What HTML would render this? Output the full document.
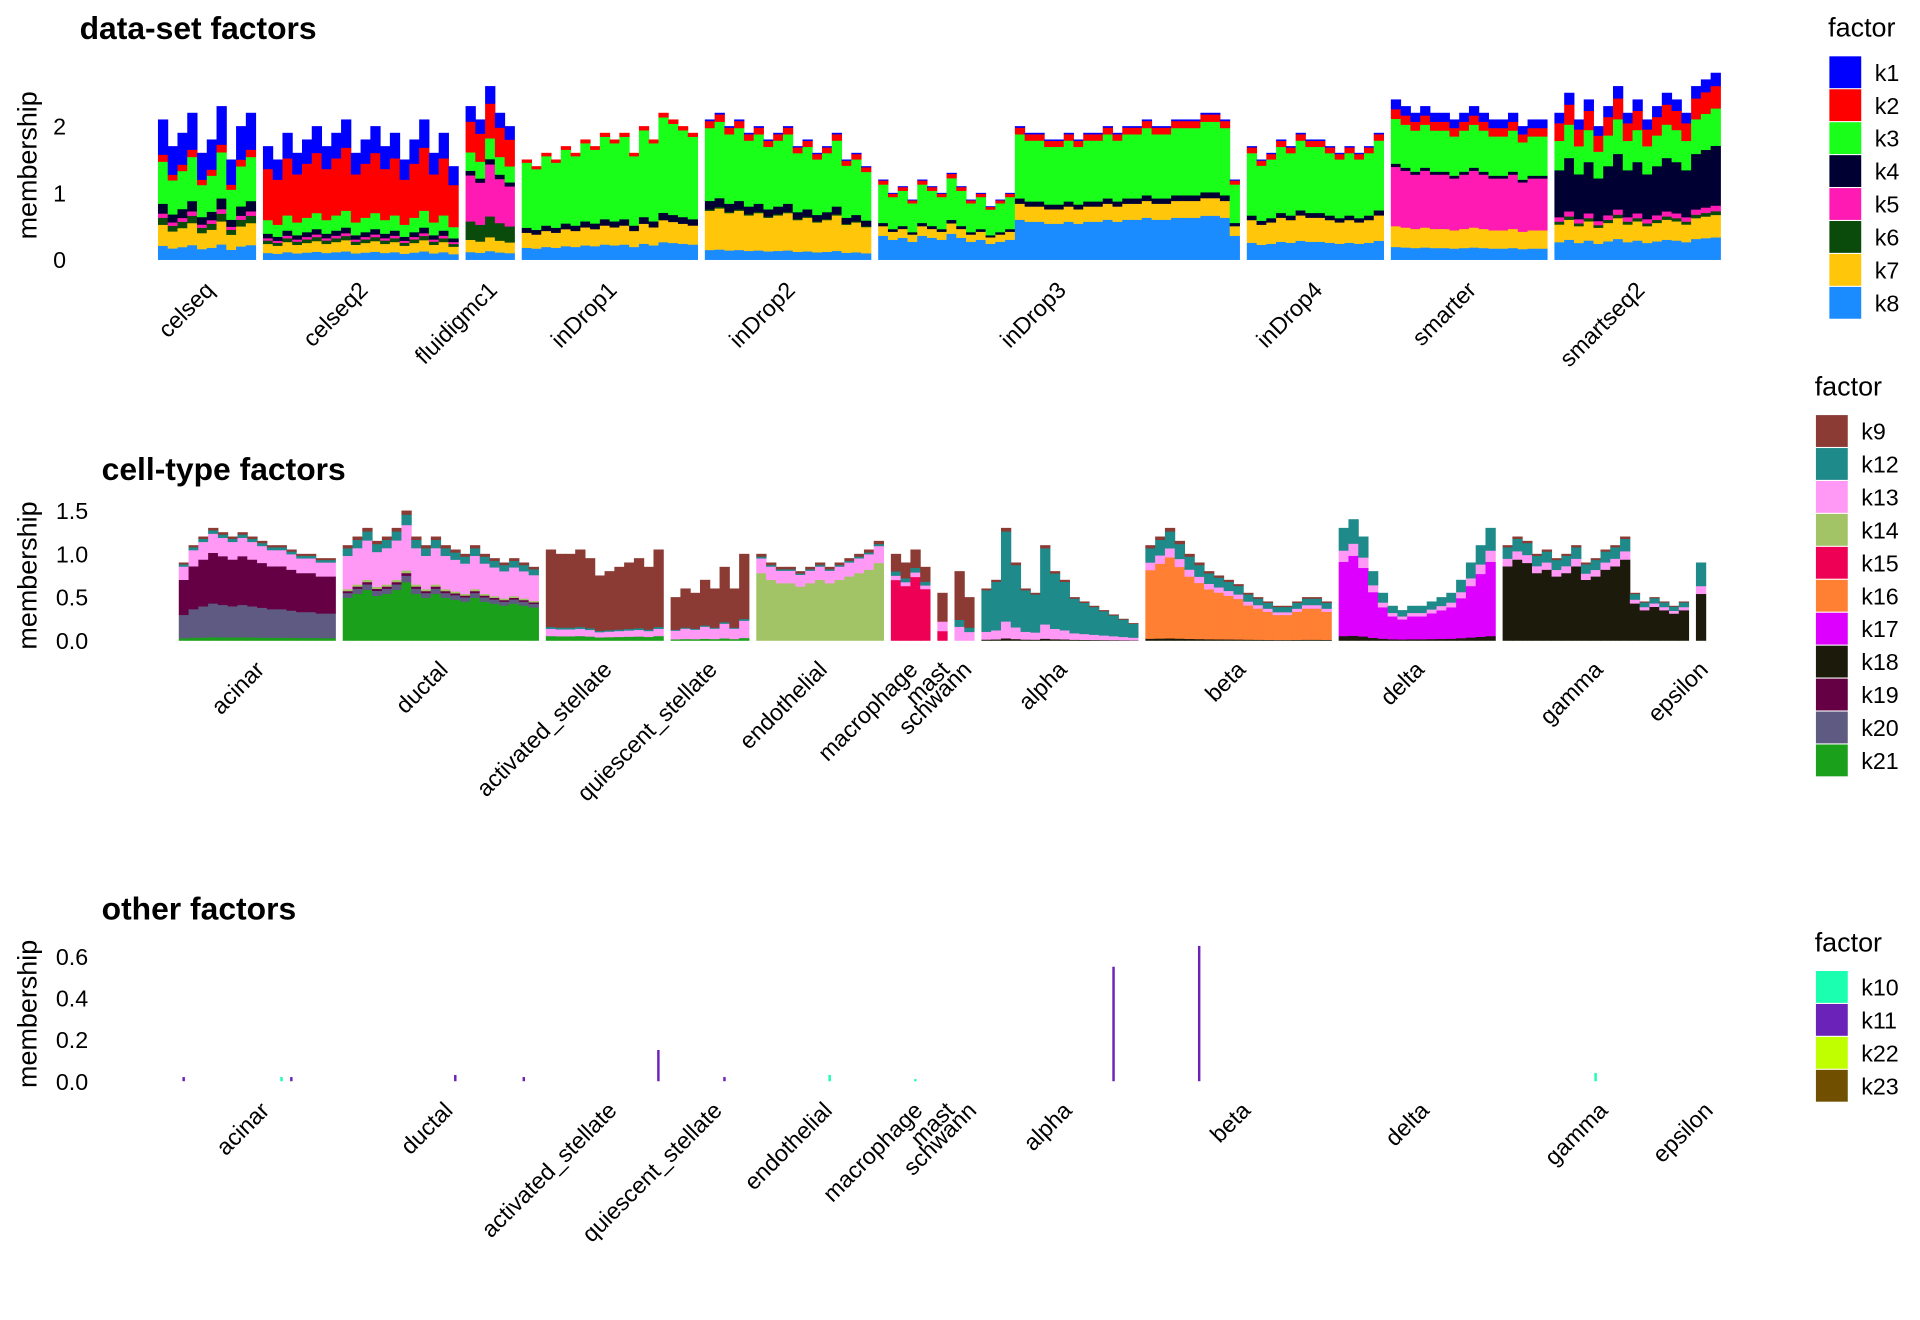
<!DOCTYPE html>
<html><head><meta charset="utf-8"><style>
html,body{margin:0;padding:0;background:#fff;}
svg{display:block;font-family:"Liberation Sans",Arial,sans-serif;}
</style></head><body>
<svg id="chart" width="1920" height="1320" viewBox="0 0 1568 1078" xmlns="http://www.w3.org/2000/svg"></svg>
<script>
// ---------- Panel 1 data ----------
const p1Factors = ['k8','k7','k6','k5','k4','k3','k2','k1']; // bottom -> top
const p1Legend = ['k1','k2','k3','k4','k5','k6','k7','k8'];
const p1Groups = ['celseq','celseq2','fluidigmc1','inDrop1','inDrop2','inDrop3','inDrop4','smarter','smartseq2'];
const p1Profiles = [
 [.10,.15,.05,.03,.07,.30,.05,.25],
 [.06,.08,.03,.02,.04,.12,.45,.20],
 [.05,.08,.12,.30,.03,.12,.20,.10],
 [.12,.15,.0,.0,.05,.65,.03,.0],
 [.07,.28,.01,.0,.06,.52,.05,.01],
 [.30,.12,.0,.0,.04,.48,.05,.01],
 [.15,.20,.0,.0,.04,.55,.05,.01],
 [.08,.13,.0,.37,.02,.28,.06,.06],
 [.12,.12,.02,.03,.32,.20,.12,.07]
];
const p1Totals = [
 [2.1,1.7,1.9,2.2,1.6,1.8,2.3,1.5,2.0,2.2],
 [1.7,1.5,1.9,1.6,1.8,2.0,1.7,1.9,2.1,1.6,1.8,2.0,1.7,1.9,1.5,1.8,2.1,1.6,1.9,1.4],
 [2.3,2.1,2.6,2.2,2.0],
 [1.5,1.4,1.6,1.5,1.7,1.6,1.8,1.7,1.9,1.8,1.9,1.6,2.0,1.8,2.2,2.1,2.0,1.9],
 [2.1,2.2,2.0,2.1,1.9,2.0,1.8,1.9,2.0,1.7,1.8,1.6,1.7,1.9,1.5,1.6,1.4],
 [1.2,1.0,1.1,0.9,1.2,1.1,1.0,1.3,1.1,0.9,1.0,0.8,0.9,1.0,2.0,1.9,1.9,1.8,1.8,1.9,1.8,1.9,1.9,2.0,1.9,2.0,2.0,2.1,2.0,2.0,2.1,2.1,2.1,2.2,2.2,2.1,1.2],
 [1.7,1.5,1.6,1.8,1.7,1.9,1.8,1.8,1.7,1.6,1.7,1.6,1.7,1.9],
 [2.4,2.3,2.2,2.3,2.2,2.2,2.1,2.2,2.3,2.2,2.1,2.1,2.2,2.0,2.1,2.1],
 [2.2,2.5,2.1,2.4,2.0,2.3,2.6,2.2,2.4,2.1,2.3,2.5,2.4,2.2,2.6,2.7,2.8]
];
const p1Ticks = [0,1,2];
// ---------- Panel 2 data ----------
const p2Factors = ['k21','k20','k19','k18','k17','k16','k15','k14','k13','k12','k9'];
const p2Legend = ['k9','k12','k13','k14','k15','k16','k17','k18','k19','k20','k21'];
const cellGroups = ['acinar','ductal','activated_stellate','quiescent_stellate','endothelial','macrophage','mast','schwann','alpha','beta','delta','gamma','epsilon'];
const p2Profiles = [
 [.03,.30,.45,0,0,0,0,0,.17,.03,.02],
 [.45,.05,.02,0,0,0,0,.02,.35,.08,.03],
 [.05,0,0,0,0,0,0,0,.08,.02,.85],
 [.03,0,0,0,0,0,0,0,.20,.02,.75],
 [0,0,0,0,0,0,0,.78,.17,.02,.03],
 [0,0,0,0,0,0,.70,0,.05,.05,.20],
 [0,0,0,0,0,0,.20,0,.20,0,.60],
 [0,0,0,0,0,0,0,0,.20,.10,.70],
 [0,0,0,.02,0,0,0,0,.15,.80,.03],
 [0,0,0,.02,0,.72,0,0,.08,.15,.03],
 [0,0,0,.04,.66,0,0,0,.10,.20,0],
 [0,0,0,.78,0,0,0,0,.08,.12,.02],
 [0,0,0,.60,0,0,0,0,.10,.30,0]
];
const p2Totals = [
 [0.9,1.1,1.2,1.3,1.25,1.2,1.25,1.2,1.15,1.1,1.1,1.05,1.0,1.0,0.95,0.95],
 [1.1,1.2,1.3,1.15,1.2,1.3,1.5,1.2,1.1,1.2,1.1,1.05,1.0,1.1,1.0,0.95,0.9,0.95,0.9,0.85],
 [1.05,1.0,1.0,1.05,0.95,0.75,0.8,0.85,0.9,0.95,0.85,1.05],
 [0.5,0.6,0.55,0.7,0.6,0.85,0.6,1.0],
 [1.0,0.9,0.85,0.85,0.8,0.85,0.9,0.85,0.9,0.95,1.0,1.05,1.15],
 [1.0,0.9,1.05,0.85],
 [0.55],
 [0.8,0.5],
 [0.6,0.7,1.3,0.9,0.6,0.55,1.1,0.8,0.7,0.5,0.45,0.4,0.35,0.3,0.25,0.2],
 [1.1,1.2,1.3,1.15,1.0,0.9,0.8,0.75,0.7,0.65,0.55,0.5,0.45,0.4,0.4,0.45,0.5,0.5,0.45],
 [1.3,1.4,1.2,0.8,0.55,0.4,0.35,0.4,0.4,0.45,0.5,0.55,0.7,0.9,1.1,1.3],
 [1.1,1.2,1.15,1.0,1.05,0.95,1.0,1.1,0.9,0.95,1.05,1.1,1.2,0.55,0.45,0.5,0.45,0.4,0.45],
 [0.9]
];
const p2Ticks = [0,0.5,1.0,1.5];
// ---------- Panel 3 data ----------
const p3Legend = ['k10','k11','k22','k23'];
const p3Groups = ['acinar','ductal','activated_stellate','acinar','ductal','quiescent_stellate','endothelial','alpha','beta','gamma','acinar','macrophage'];
const p3Index = [0,11,11,10,18,5,7,13,5,9,11,2];
const p3Factor = ['k11','k11','k11','k10','k11','k11','k10','k11','k11','k10','k11','k10'];
const p3Values = [0.02,0.03,0.15,0.02,0.02,0.02,0.03,0.55,0.65,0.04,0.02,0.01];
const p3Ticks = [0,0.2,0.4,0.6];

const colors = {k1:'#0000ff',k2:'#ff0000',k3:'#1aff1a',k4:'#000033',k5:'#ff1ab3',k6:'#0a4a0a',k7:'#ffc60a',k8:'#1a8cff',
 k9:'#8b3a34',k12:'#1f8a8a',k13:'#ff99f5',k14:'#a3c466',k15:'#ee0055',k16:'#ff7f33',k17:'#dd00ff',k18:'#1c1a0a',k19:'#660044',k20:'#5f5a82',k21:'#1aa01a',
 k10:'#1affb0',k11:'#6a22b8',k22:'#bfff00',k23:'#705000'};

const NS='http://www.w3.org/2000/svg';
const svg=document.getElementById('chart');
function el(tag,attrs,parent){const e=document.createElementNS(NS,tag);for(const k in attrs)e.setAttribute(k,attrs[k]);(parent||svg).appendChild(e);return e;}
function txt(s,attrs,parent){const e=el('text',attrs,parent);e.textContent=s;return e;}

function bandLayout(totals,x0,x1,gap){
  const n=totals.reduce((a,t)=>a+t.length,0);
  const bw=(x1-x0-gap*(totals.length-1))/n;
  const out=[];let x=x0;
  totals.forEach(t=>{out.push({x:x,bw:bw,w:bw*t.length});x+=bw*t.length+gap;});
  return out;
}

function drawPanel(cfg){
  const g=el('g',{});
  
  
  const y=v=>cfg.y0-v*cfg.ppu;
  const t=txt(cfg.title,{x:cfg.titleX,y:cfg.titleY,'font-size':26,'font-weight':'bold',fill:'#000'},g);
  
  
  const at=txt('membership',{x:0,y:0,'font-size':22,'text-anchor':'middle',transform:`translate(30,${cfg.axisMid}) rotate(-90)`},g);
  
  
  cfg.ticks.forEach(v=>{
    const tk=txt(cfg.fmt(v),{x:cfg.tickX,y:y(v)+7,'font-size':19,'text-anchor':'end',fill:'#000'},g);
    
    
  });
  const lay=bandLayout(cfg.totals,cfg.x0,cfg.x1,6);
  const bars=el('g',{},g);
  
  
  if(cfg.profiles){
    cfg.totals.forEach((tot,gi)=>{
      tot.forEach((T,bi)=>{
        let acc=0;
        const bx=lay[gi].x+bi*lay[gi].bw;
        cfg.factors.forEach((f,fi)=>{
          const v=T*cfg.profiles[gi][fi];
          if(v<=0)return;
          const r=el('rect',{x:bx,y:y(acc+v),width:lay[gi].bw+0.4,height:v*cfg.ppu+0.3,fill:colors[f]},bars);
          
          
          acc+=v;
        });
      });
    });
  }
  if(cfg.spikes){
    cfg.spikes.groups.forEach((gn,i)=>{
      const gi=cellGroups.indexOf(gn);
      const bx=lay[gi].x+cfg.spikes.idx[i]*lay[gi].bw+lay[gi].bw/2;
      const v=cfg.spikes.vals[i];
      const r=el('rect',{x:bx-1,y:y(v),width:2,height:v*cfg.ppu,fill:colors[cfg.spikes.fac[i]]},bars);
      
      
    });
  }
  cfg.labels.forEach((lb,gi)=>{
    const cx=lay[gi].x+lay[gi].w/2+(cfg.labelShift||0);
    const l=txt(lb,{x:0,y:0,'font-size':19,'text-anchor':'end',transform:`translate(${cx+7},${cfg.labelY}) rotate(-45)`},g);
    
    
  });
  const lg=el('g',{},g);
  
  
  const lt=txt('factor',{x:cfg.legX,y:cfg.legY,'font-size':22},lg);
  
  
  cfg.legend.forEach((k,i)=>{
    const cy=cfg.legY+16+i*26.9;
    const r=el('rect',{x:cfg.legX+1,y:cy,width:26,height:26,fill:colors[k]},lg);
    
    
    const tx=txt(k,{x:cfg.legX+38,y:cy+20,'font-size':19},lg);
    
    
  });
}

drawPanel({name:'data-set-factors-panel',title:'data-set factors',titleX:65,titleY:32,y0:212,ppu:54.5,axisMid:135,
  tickX:54,ticks:p1Ticks,fmt:v=>String(v),x0:129,x1:1405,totals:p1Totals,profiles:p1Profiles,factors:p1Factors,
  labels:p1Groups,labelY:238,legX:1493,legY:30,legend:p1Legend});
drawPanel({name:'cell-type-factors-panel',title:'cell-type factors',titleX:83,titleY:392,y0:523,ppu:70.7,axisMid:470,
  tickX:72,ticks:p2Ticks,fmt:v=>v.toFixed(1),x0:146,x1:1393,totals:p2Totals,profiles:p2Profiles,factors:p2Factors,
  labels:cellGroups,labelY:548,legX:1482,legY:323,legend:p2Legend});
drawPanel({name:'other-factors-panel',title:'other factors',titleX:83,titleY:751,y0:883,ppu:170,axisMid:828,
  tickX:72,ticks:p3Ticks,fmt:v=>v.toFixed(1),x0:146,x1:1393,totals:p2Totals,profiles:null,
  spikes:{groups:p3Groups,idx:p3Index,fac:p3Factor,vals:p3Values},
  labels:cellGroups,labelShift:4,labelY:908,legX:1482,legY:777,legend:p3Legend});
</script>
</body></html>
